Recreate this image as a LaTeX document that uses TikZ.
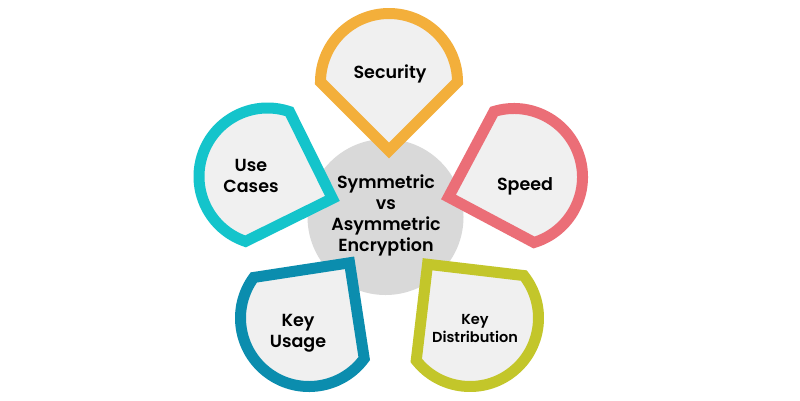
\documentclass[tikz,border=0pt]{standalone}
\usepackage{fontspec}
\setmainfont{Poppins}[BoldFont={Poppins SemiBold}]
\usetikzlibrary{calc}
\definecolor{cOrange}{HTML}{F3AF3B}
\definecolor{cRed}{HTML}{EB6E77}
\definecolor{cCyan}{HTML}{14C4CB}
\definecolor{cTeal}{HTML}{0B8DAE}
\definecolor{cLime}{HTML}{C3C62A}
\definecolor{cPetal}{HTML}{F0F0F0}
\definecolor{cCenter}{HTML}{D9D9D9}
\tikzset{
  petal/.style={line width=11pt, fill=cPetal, line join=miter},
  lbl/.style={align=center, font=\fontsize{17.5}{21}\selectfont\bfseries, text=black, inner sep=0pt},
}
% #1 center, #2 apex angle, #3 colour
\newcommand{\mypetal}[3]{%
  \draw[petal, draw=#3] ($#1+(#2+90:68.5)$) arc[start angle=#2+90, end angle=#2+270, radius=68.5]
    -- ($#1+(#2:68.5)$) -- cycle;}
\begin{document}
\begin{tikzpicture}[x=1pt,y=-1pt]
\useasboundingbox[fill=white] (0,0) rectangle (800,400);
\node[circle, fill=cCenter, minimum size=156pt, inner sep=0pt] (hub) at (385.5,217) {};
\mypetal{(389,82)}{90}{cOrange}
\mypetal{(514,177)}{163}{cRed}
\mypetal{(470,318)}{-128.3}{cLime}
\mypetal{(309,318)}{-53.7}{cTeal}
\mypetal{(267.5,176.5)}{18.7}{cCyan}
\node[lbl] (hubtext) at (386,215.5) {Symmetric\\vs\\Asymmetric\\Encryption};
\node[lbl] (security) at (390,73.5) {Security};
\node[lbl] (speed) at (525,186) {Speed};
\node[lbl] (usecases) at (251,175.5) {Use\\Cases};
\node[lbl] (keyusage) at (298,333) {Key\\Usage};
\node[lbl, font=\fontsize{14.5}{17.5}\selectfont\bfseries] (keydist) at (475,328.5) {Key\\Distribution};
\end{tikzpicture}
\end{document}
